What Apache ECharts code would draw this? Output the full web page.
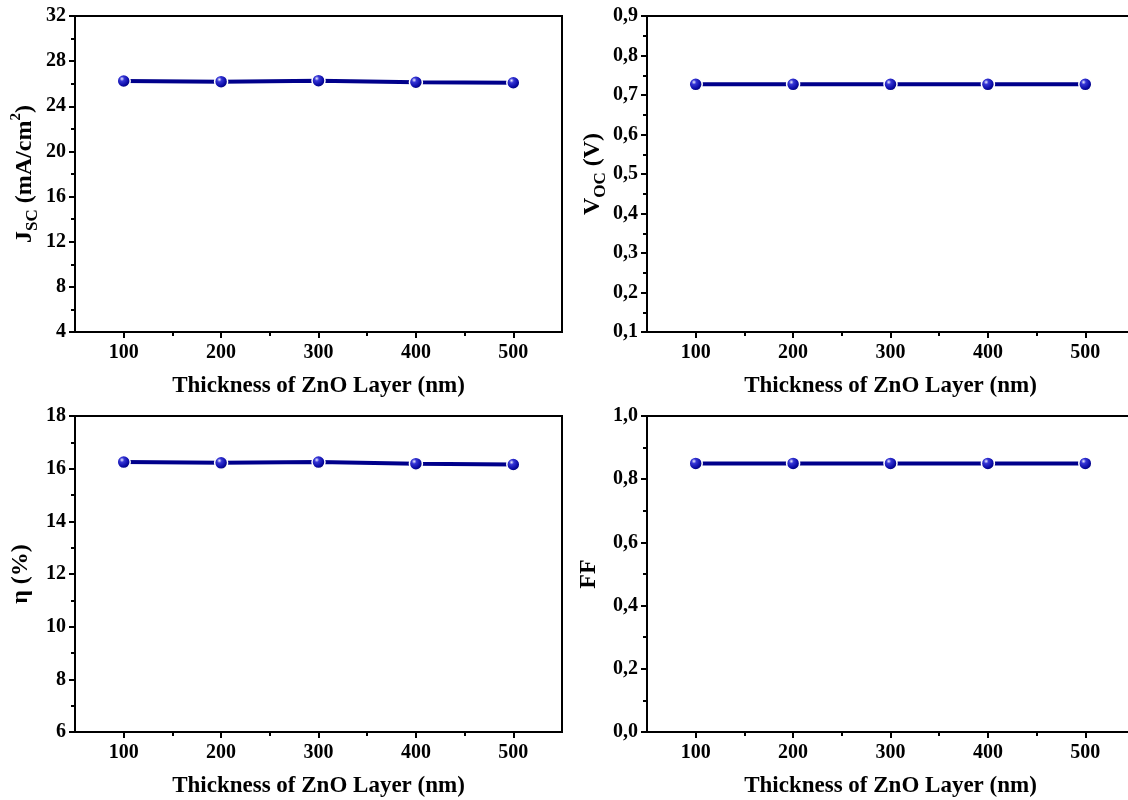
<!DOCTYPE html>
<html>
<head>
<meta charset="utf-8">
<script src="https://cdn.jsdelivr.net/npm/echarts@6/dist/echarts.min.js"></script>
<style>
  html, body { margin: 0; padding: 0; background: #fff; overflow: hidden; }
  #chart { width: 1140px; height: 800px; }
</style>
</head>
<body>
<div id="chart"></div>
<script>
// thickness of ZnO layer (nm)
const thickness = [100, 200, 300, 400, 500];
const jscData = [26.24, 26.18, 26.27, 26.13, 26.09];
const vocData = [0.727, 0.727, 0.727, 0.727, 0.727];
const etaData = [16.25, 16.22, 16.25, 16.19, 16.16];
const ffData = [0.85, 0.85, 0.85, 0.85, 0.85];

const xLabelValues = [100, 200, 300, 400, 500];
const xMinorValues = [150, 250, 350, 450];

const FONT = '"Liberation Serif", "Times New Roman", serif';
const LINE_COLOR = '#00008b';

const chart = echarts.init(document.getElementById('chart'));

const panels = [
  { left: 75, top: 16, data: jscData, min: 4, max: 32, interval: 4, dec: 0,
    name: '{b|J}{sub|SC}{b| (mA/cm}{sup|2}{b|)}', nameGap: 34 },
  { left: 647, top: 16, data: vocData, min: 0.1, max: 0.9, interval: 0.1, dec: 1,
    name: '{b|V}{sub|OC}{b| (V)}', nameGap: 34 },
  { left: 75, top: 416, data: etaData, min: 6, max: 18, interval: 2, dec: 0,
    name: '{b|η (%)}', nameGap: 38 },
  { left: 647, top: 416, data: ffData, min: 0, max: 1, interval: 0.2, dec: 1,
    name: '{b|FF}', nameGap: 42 }
];

const nameRich = {
  b: { fontFamily: FONT, fontWeight: 'bold', fontSize: 24, color: '#000', lineHeight: 32 },
  sub: { fontFamily: FONT, fontWeight: 'bold', fontSize: 17, color: '#000', verticalAlign: 'bottom', lineHeight: 20 },
  sup: { fontFamily: FONT, fontWeight: 'bold', fontSize: 15, color: '#000', verticalAlign: 'top', lineHeight: 20 }
};

const axisLineStyle = { color: '#000', width: 2 };

const grid = [], xAxis = [], yAxis = [], series = [];

panels.forEach((p, i) => {
  grid.push({
    left: p.left, top: p.top, width: 487, height: 316,
    show: true, borderColor: '#000', borderWidth: 2, backgroundColor: 'transparent'
  });

  // main x axis: labelled ticks at hundreds
  xAxis.push({
    gridIndex: i, type: 'value', min: 50, max: 550,
    name: 'Thickness of ZnO Layer (nm)', nameLocation: 'middle', nameGap: 43,
    nameTextStyle: { fontFamily: FONT, fontWeight: 'bold', fontSize: 23, color: '#000' },
    axisLine: { show: true, onZero: false, lineStyle: axisLineStyle },
    axisTick: { show: true, inside: false, length: 6, lineStyle: { width: 2, color: '#000' }, customValues: xLabelValues },
    axisLabel: { customValues: xLabelValues, margin: 11, fontFamily: FONT, fontWeight: 'bold', fontSize: 20, color: '#000' },
    splitLine: { show: false }
  });

  yAxis.push({
    gridIndex: i, type: 'value', min: p.min, max: p.max, interval: p.interval,
    name: p.name, nameLocation: 'middle', nameGap: p.nameGap,
    nameTextStyle: { rich: nameRich },
    axisLine: { show: true, onZero: false, lineStyle: axisLineStyle },
    axisTick: { show: true, inside: false, length: 6, lineStyle: { width: 2, color: '#000' } },
    minorTick: { show: true, splitNumber: 2, length: 4, lineStyle: { width: 2, color: '#000' } },
    axisLabel: {
      margin: 9, fontFamily: FONT, fontWeight: 'bold', fontSize: 20, color: '#000',
      formatter: v => v.toFixed(p.dec).replace('.', ',')
    },
    splitLine: { show: false }
  });

  series.push({
    type: 'line', xAxisIndex: i, yAxisIndex: i,
    data: thickness.map((t, k) => [t, p.data[k]]),
    symbol: 'circle', symbolSize: 13,
    lineStyle: { color: LINE_COLOR, width: 4 },
    itemStyle: {
      color: {
        type: 'radial', x: 0.38, y: 0.35, r: 0.65,
        colorStops: [
          { offset: 0, color: '#eeeeff' },
          { offset: 0.25, color: '#3535d5' },
          { offset: 0.7, color: '#0a0aa5' },
          { offset: 1, color: '#000066' }
        ]
      },
      borderColor: '#ffffff', borderWidth: 1.5
    },
    emphasis: { disabled: true },
    z: 5
  });
});

// minor x ticks overlay (shorter ticks at 150, 250, ...)
panels.forEach((p, i) => {
  xAxis.push({
    gridIndex: i, type: 'value', min: 50, max: 550, position: 'bottom',
    axisLine: { show: false, onZero: false },
    axisTick: { show: true, inside: false, length: 4, lineStyle: { width: 2, color: '#000' }, customValues: xMinorValues },
    axisLabel: { show: false },
    splitLine: { show: false }
  });
});

chart.setOption({
  animation: false,
  backgroundColor: '#fff',
  grid, xAxis, yAxis, series
});
</script>
</body>
</html>
